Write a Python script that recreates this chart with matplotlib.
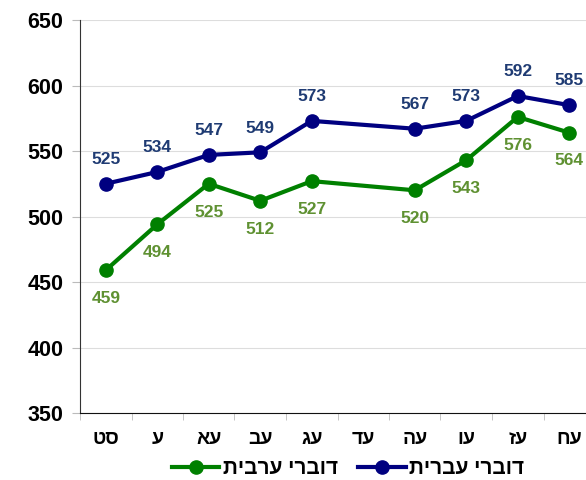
import matplotlib
matplotlib.use('Agg')
import matplotlib.pyplot as plt

plt.rcParams['font.family'] = ['Liberation Sans', 'DejaVu Sans']
plt.rcParams['font.weight'] = 'bold'

years = ['סט', 'ע', 'עא', 'עב', 'עג', 'עד', 'עה', 'עו', 'עז', 'עח']
# no data for עד (index 5)
idx = [0, 1, 2, 3, 4, 6, 7, 8, 9]
hebrew = [525, 534, 547, 549, 573, 567, 573, 592, 585]
arabic = [459, 494, 525, 512, 527, 520, 543, 576, 564]
names = ['דוברי עברית', 'דוברי ערבית']

def rtl(s):
    # matplotlib has no bidi, so flip the hebrew text
    return s[::-1]

fig = plt.figure(figsize=(5.86, 4.8), dpi=100)
ax = fig.add_axes([80/586, 1-413/480, 515/586, 393/480])

l1, = ax.plot(idx, hebrew, color='#000080', lw=3, marker='o', ms=9.5, label=rtl(names[0]))
l2, = ax.plot(idx, arabic, color='#008000', lw=3, marker='o', ms=9.5, label=rtl(names[1]))

for x, v in zip(idx, hebrew):
    ax.annotate(str(v), (x, v), xytext=(0, 12), textcoords='offset points',
                ha='center', va='bottom', fontsize=12.5, fontweight='bold', color='#1f3b73')
for x, v in zip(idx, arabic):
    ax.annotate(str(v), (x, v), xytext=(0, -15), textcoords='offset points',
                ha='center', va='top', fontsize=12.5, fontweight='bold', color='#5f9132')

ax.set_ylim(350, 650)
ax.set_yticks(range(350, 651, 50))
ax.set_xlim(-0.5, 9.5)
ax.set_xticks(range(10))
ax.set_xticklabels([rtl(y) for y in years])
ax.set_xticks([i - 0.5 for i in range(11)], minor=True)
ax.tick_params(axis='x', which='major', length=0, pad=13, labelsize=14)
ax.tick_params(axis='x', which='minor', length=5, color='#bbbbbb')
ax.tick_params(axis='y', length=6, color='#bbbbbb', labelsize=15.5, pad=6)

ax.grid(axis='y', color='#dddddd', lw=0.8)
ax.set_axisbelow(True)
for s in ['top', 'right']:
    ax.spines[s].set_visible(False)
ax.spines['left'].set_color('#333333')
ax.spines['bottom'].set_color('#111111')

fig.legend(handles=[l2, l1], loc='center', bbox_to_anchor=(348/586, 1-469/480),
           ncol=2, frameon=False, prop={'size': 15, 'weight': 'bold'},
           handlelength=2.3, columnspacing=1.0, handletextpad=0.15, borderpad=0)

fig.savefig('out.png', dpi=100)
